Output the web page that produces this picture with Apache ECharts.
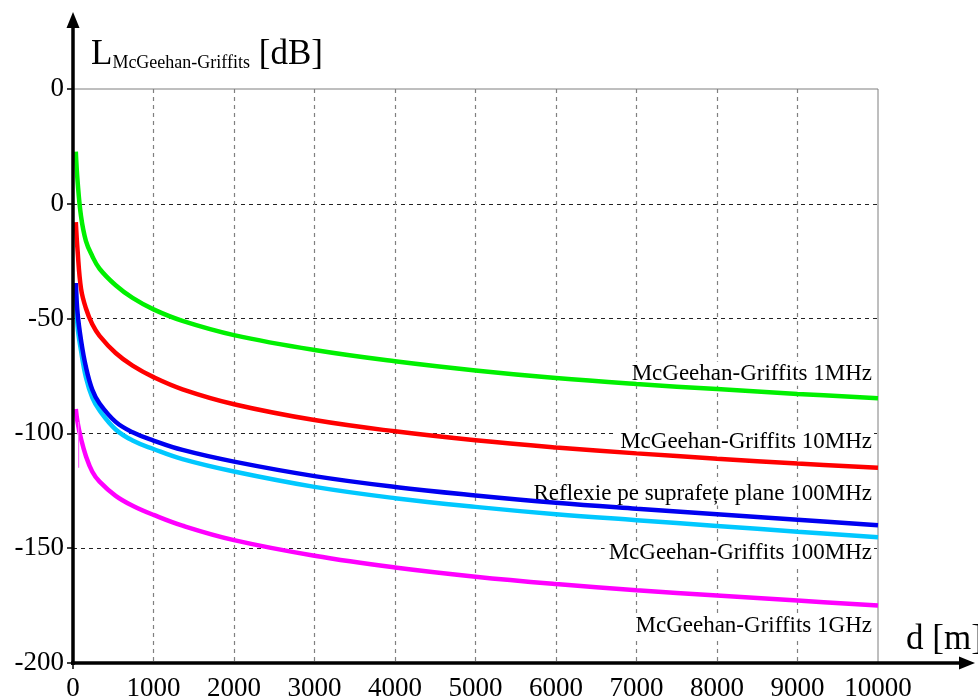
<!DOCTYPE html>
<html>
<head>
<meta charset="utf-8">
<script src="https://cdn.jsdelivr.net/npm/echarts@6/dist/echarts.min.js"></script>
<style>
  html, body { margin: 0; padding: 0; background: #fff; }
  #chart { width: 978px; height: 697px; }
</style>
</head>
<body>
<div id="chart"></div>
<script>
// Distance from the transmitter [m]
const distance = [35, 57, 100, 160, 240, 330, 530, 740, 1000, 1360, 2000, 3000, 4000, 5000, 6000, 7000, 8000, 9000, 10000];

// Path loss [dB] for each model / frequency
const mg1MHz     = [22.7, 9.8, -5.5, -16.1, -22.8, -28.3, -35.5, -41.0, -46.0, -51.0, -57.2, -63.7, -68.6, -72.6, -75.9, -78.5, -80.7, -82.8, -84.7];
const mg10MHz    = [-8.0, -20.4, -37.0, -45.5, -52.5, -57.5, -65.0, -70.5, -75.5, -80.8, -87.3, -94.2, -99.1, -103.0, -106.1, -108.7, -111.0, -113.1, -115.0];
const refl100MHz = [-34.5, -47.7, -59.5, -71.0, -81.0, -87.0, -95.0, -99.5, -103.1, -107.2, -112.3, -118.6, -123.3, -127.0, -130.2, -132.8, -135.2, -137.6, -140.0];
const mg100MHz   = [-37.0, -53.5, -64.0, -75.5, -84.4, -90.0, -98.3, -103.1, -106.8, -111.2, -116.6, -123.3, -128.2, -132.0, -135.2, -137.8, -140.3, -142.8, -145.2];
const mg1GHz     = [-89.4, -95.2, -102.4, -109.8, -116.7, -121.0, -127.2, -131.5, -135.5, -140.2, -146.5, -153.3, -158.4, -162.4, -165.6, -168.3, -170.6, -172.8, -175.0];

// Short vertical glitch on the 1 GHz trace near the origin
const glitchD = [70, 70];
const glitchL = [-95, -115];

// Curve captions and the level at which each one is written
const captionText = ['McGeehan-Griffits 1MHz', 'McGeehan-Griffits 10MHz', 'Reflexie pe suprafețe plane 100MHz', 'McGeehan-Griffits 100MHz', 'McGeehan-Griffits 1GHz'];
const captionLevel = [-74.0, -103.8, -126.2, -152.2, -184.0];
const captionD = 10000;

// Axis tick labels
const yTickValues = [-200, -150, -100, -50, 0, 50];
const yTickLabels = ['-200', '-150', '-100', '-50', '0', '0'];
const xTickValues = [0, 1000, 2000, 3000, 4000, 5000, 6000, 7000, 8000, 9000, 10000];
const xTickLabels = ['0', '1000', '2000', '3000', '4000', '5000', '6000', '7000', '8000', '9000', '10000'];

const serif = '"Liberation Serif", "DejaVu Serif", serif';
const zip = (xs, ys) => xs.map((x, i) => [x, ys[i]]);

function curve(name, color, values) {
  return {
    name, type: 'line', data: zip(distance, values),
    smooth: 0.4, showSymbol: false, symbol: 'none',
    lineStyle: { color, width: 4.5, cap: 'butt' }, z: 3, silent: true
  };
}

const chart = echarts.init(document.getElementById('chart'));
chart.setOption({
  animation: false,
  backgroundColor: '#fff',
  title: {
    text: '{a|L}{b|McGeehan-Griffits}{a| [dB]}',
    left: 86, top: 30,
    textStyle: {
      fontWeight: 'normal',
      rich: {
        a: { fontFamily: serif, fontSize: 35, fontWeight: 'normal', color: '#000', lineHeight: 40 },
        b: { fontFamily: serif, fontSize: 18, fontWeight: 'normal', color: '#000', lineHeight: 40, padding: [16, 0, 0, 0] }
      }
    }
  },
  grid: {
    left: 73, right: 100, top: 89, bottom: 34,
    containLabel: false, outerBoundsMode: 'none',
    show: true, borderColor: '#7f7f7f', borderWidth: 1, backgroundColor: 'transparent'
  },
  xAxis: {
    type: 'value', min: 0, max: 10000, interval: 1000,
    axisLine: { show: false },
    axisTick: { show: false },
    axisLabel: {
      margin: 12, fontFamily: serif, fontSize: 27, color: '#000',
      formatter: v => xTickLabels[xTickValues.indexOf(v)]
    },
    splitLine: { show: true, showMinLine: false, showMaxLine: false, lineStyle: { color: '#808080', type: [4, 4], width: 1.2 } }
  },
  yAxis: {
    type: 'value', min: -200, max: 50, interval: 50,
    axisLine: { show: false },
    axisTick: { show: true, inside: false, length: 6, lineStyle: { color: '#000', width: 1.5 } },
    axisLabel: {
      margin: 9, fontFamily: serif, fontSize: 27, color: '#000',
      formatter: v => yTickLabels[yTickValues.indexOf(v)]
    },
    splitLine: { show: true, showMinLine: false, showMaxLine: false, lineStyle: { color: '#222', type: [4, 4], width: 1 } }
  },
  series: [
    {
      name: 'captions', type: 'scatter', symbolSize: 0, z: 1, silent: true,
      data: captionLevel.map((l, i) => ({ value: [captionD, l], name: captionText[i] })),
      label: {
        show: true, position: 'left', distance: 4,
        formatter: p => p.name,
        fontFamily: serif, fontSize: 23, fontWeight: 'normal', color: '#000', opacity: 1,
        backgroundColor: '#fff', padding: [1, 2, 0, 4]
      }
    },
    curve('McGeehan-Griffits 1MHz', '#00f000', mg1MHz),
    curve('McGeehan-Griffits 10MHz', '#ff0000', mg10MHz),
    curve('McGeehan-Griffits 100MHz', '#00c8ff', mg100MHz),
    curve('Reflexie pe suprafețe plane 100MHz', '#0000f0', refl100MHz),
    curve('McGeehan-Griffits 1GHz', '#ff00ff', mg1GHz),
    {
      name: 'glitch', type: 'line', data: zip(glitchD, glitchL), symbol: 'none',
      lineStyle: { color: '#ff66ff', width: 1.2 }, z: 3, silent: true
    }
  ]
});

// Black axes with arrow heads, anchored at the plot origin
const o = chart.convertToPixel({ gridIndex: 0 }, [0, -200]);
const xr = 975, yt = 12;
chart.setOption({
  graphic: [
    { type: 'line', shape: { x1: o[0], y1: o[1] + 2, x2: o[0], y2: yt + 12 }, style: { stroke: '#000', lineWidth: 3.5 }, z: 10 },
    { type: 'polygon', shape: { points: [[o[0], yt], [o[0] - 6.5, yt + 16], [o[0] + 6.5, yt + 16]] }, style: { fill: '#000' }, z: 10 },
    { type: 'line', shape: { x1: o[0] - 2, y1: o[1], x2: xr - 12, y2: o[1] }, style: { stroke: '#000', lineWidth: 3.5 }, z: 10 },
    { type: 'polygon', shape: { points: [[xr, o[1]], [xr - 16, o[1] - 6.5], [xr - 16, o[1] + 6.5]] }, style: { fill: '#000' }, z: 10 },
    { type: 'line', shape: { x1: o[0], y1: o[1], x2: o[0], y2: o[1] + 6 }, style: { stroke: '#000', lineWidth: 1.5 }, z: 10 },
    { type: 'text', left: 906, top: 622, style: { text: 'd [m]', font: '35px ' + serif, fill: '#000' }, z: 10 }
  ]
});
</script>
</body>
</html>
